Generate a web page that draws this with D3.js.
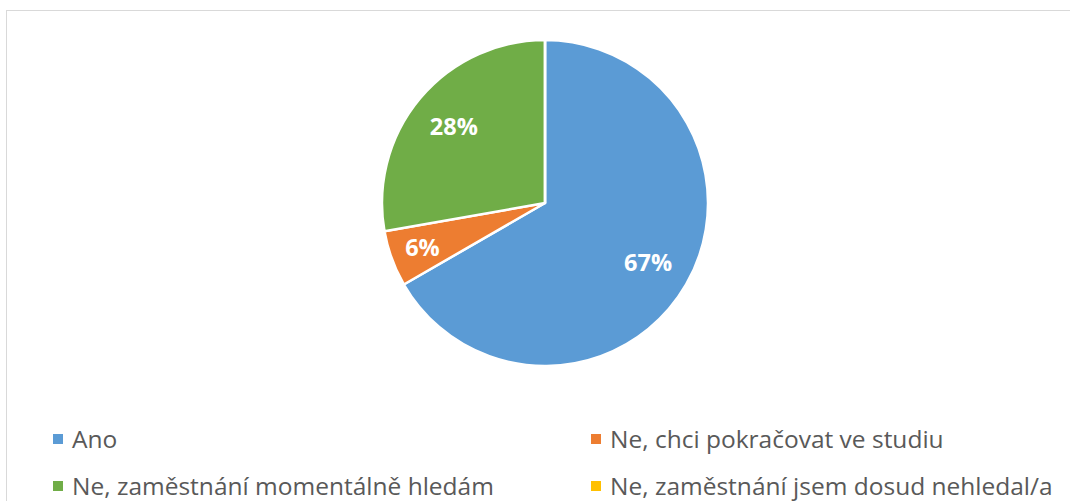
<!DOCTYPE html>
<html>
<head>
<meta charset="utf-8">
<script src="https://cdn.jsdelivr.net/npm/d3@7"></script>
<style>
  html, body { margin: 0; padding: 0; background: #fff; }
  svg { display: block; }
</style>
</head>
<body>
<svg id="chart" width="1070" height="501"></svg>
<script>
// answers (counts) read from the percentages 67 / 6 / 28 / 0
var categories = ['Ano', 'Ne, chci pokračovat ve studiu', 'Ne, zaměstnání momentálně hledám', 'Ne, zaměstnání jsem dosud nehledal/a'];
var values = [24, 2, 10, 0];
var colors = ['#5b9bd5', '#ed7d31', '#70ad47', '#ffc000'];

var svg = d3.select('#chart');
var fontFamily = '"Open Sans", "Noto Sans", sans-serif';

// chart area border (cropped on right and bottom)
svg.append('rect')
  .attr('x', 6.5).attr('y', 10.5)
  .attr('width', 1100).attr('height', 600)
  .attr('fill', '#fff')
  .attr('stroke', '#d9d9d9')
  .attr('stroke-width', 1);

var cx = 545, cy = 203, radius = 163;
var total = d3.sum(values);

var data = categories.map(function (c, i) {
  return { name: c, value: values[i], color: colors[i] };
});

var pie = d3.pie()
  .sort(null)
  .value(function (d) { return d.value; });

var arc = d3.arc().innerRadius(0).outerRadius(radius);

function labelPos(d) {
  // small slices get their label pushed further out
  var r = d.data.value / total < 0.1 ? radius * 0.8 : radius * 0.73;
  var a = (d.startAngle + d.endAngle) / 2;
  return [Math.sin(a) * r, -Math.cos(a) * r];
}

var g = svg.append('g').attr('transform', 'translate(' + cx + ',' + cy + ')');

var arcs = pie(data);

g.selectAll('path.slice')
  .data(arcs)
  .enter().append('path')
  .attr('class', 'slice')
  .attr('d', arc)
  .attr('fill', function (d) { return d.data.color; })
  .attr('stroke', '#fff')
  .attr('stroke-width', 2.5)
  .attr('stroke-linejoin', 'round');

g.selectAll('text.pct')
  .data(arcs.filter(function (d) { return d.data.value > 0; }))
  .enter().append('text')
  .attr('class', 'pct')
  .attr('transform', function (d) {
    var c = labelPos(d);
    return 'translate(' + c[0] + ',' + c[1] + ')';
  })
  .attr('dy', '0.35em')
  .attr('text-anchor', 'middle')
  .attr('fill', '#fff')
  .attr('font-family', fontFamily)
  .attr('font-weight', 'bold')
  .attr('font-size', '23.5px')
  .text(function (d) { return Math.round(d.data.value / total * 100) + '%'; });

// legend, two columns
var legendPos = [[53, 439], [591, 439], [53, 486], [591, 486]];

var legend = svg.selectAll('g.legend')
  .data(data)
  .enter().append('g')
  .attr('class', 'legend')
  .attr('transform', function (d, i) {
    return 'translate(' + legendPos[i][0] + ',' + legendPos[i][1] + ')';
  });

legend.append('rect')
  .attr('x', 0).attr('y', -5)
  .attr('width', 10).attr('height', 10)
  .attr('fill', function (d) { return d.color; });

legend.append('text')
  .attr('x', 19)
  .attr('y', 0)
  .attr('dy', '0.35em')
  .attr('fill', '#595959')
  .attr('font-family', fontFamily)
  .attr('font-size', '24.5px')
  .text(function (d) { return d.name; });
</script>
</body>
</html>
